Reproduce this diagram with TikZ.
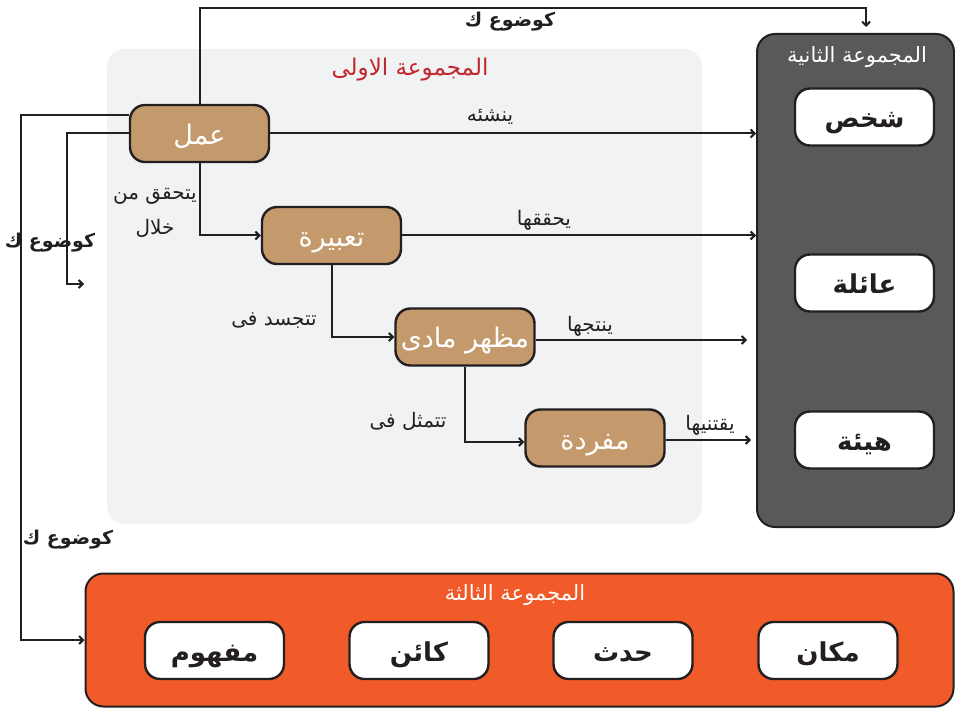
\documentclass[tikz,border=0pt]{standalone}
\usepackage{fontspec}
\newfontfamily\arabicfont[Script=Arabic]{DejaVu Sans}
\TeXXeTstate=1
\usetikzlibrary{arrows.meta}
\newcommand{\artxt}[1]{\beginR #1\endR}
\definecolor{brownc}{HTML}{C49A6C}
\definecolor{darkc}{HTML}{58595B}
\definecolor{orangec}{HTML}{F15A29}
\definecolor{redc}{HTML}{C1272D}
\definecolor{lightc}{HTML}{F1F2F4}
\definecolor{linec}{HTML}{231F20}
\tikzset{
  brownbox/.style={rounded corners=15pt, fill=brownc, draw=linec, line width=2.4pt,
    minimum width=139pt, minimum height=57pt, text=white, inner sep=0pt,
    text height=24pt, text depth=2pt,
    font=\arabicfont\fontsize{27}{32}\selectfont},
  whitebox/.style={rounded corners=15pt, fill=white, draw=linec, line width=2.4pt,
    minimum width=139pt, minimum height=57pt, text=linec, inner sep=0pt,
    text height=23pt, text depth=2pt,
    font=\arabicfont\bfseries\fontsize{26}{30}\selectfont},
  panel/.style={rounded corners=18pt, draw=linec, line width=2pt, inner sep=0pt},
  edgelabel/.style={font=\arabicfont\fontsize{20}{35}\selectfont, text=linec, inner sep=1pt},
  looplabel/.style={font=\arabicfont\bfseries\fontsize{19}{22}\selectfont, text=linec, inner sep=1pt},
  title/.style={font=\arabicfont\fontsize{21}{24}\selectfont, inner sep=1pt},
  arr/.style={draw=linec, line width=2pt, -{Straight Barb[length=4pt,width=8pt]}},
}
\begin{document}
\begin{tikzpicture}[x=1pt, y=-1pt]
\useasboundingbox (0,0) rectangle (955,708);

% first group background
\node[fill=lightc, rounded corners=18pt, minimum width=595pt, minimum height=475pt, inner sep=0pt]
  (g1) at (404.5,286.5) {};
\node[title, text=redc, font=\arabicfont\fontsize{23}{26}\selectfont] (t1) at (410,70) {\artxt{المجموعة الاولى}};

% second group panel
\node[panel, fill=darkc, minimum width=197pt, minimum height=493pt] (p2) at (855.5,280.5) {};
\node[title, text=white] (t2) at (857,57) {\artxt{المجموعة الثانية}};
\node[whitebox] (shakhs) at (864.5,117) {\artxt{شخص}};
\node[whitebox] (aila) at (864.5,283) {\artxt{عائلة}};
\node[whitebox] (hayaa) at (864.5,440) {\artxt{هيئة}};

% third group panel
\node[panel, fill=orangec, minimum width=868pt, minimum height=133pt] (p3) at (519.5,640) {};
\node[title, text=white] (t3) at (515,595) {\artxt{المجموعة الثالثة}};
\node[whitebox] (mafhum) at (214.5,650.5) {\artxt{مفهوم}};
\node[whitebox] (kain) at (419,650.5) {\artxt{كائن}};
\node[whitebox] (hadath) at (623,650.5) {\artxt{حدث}};
\node[whitebox] (makan) at (828,650.5) {\artxt{مكان}};

% chain of the first group
\node[brownbox] (amal) at (199.5,133.5) {\artxt{عمل}};
\node[brownbox] (tabira) at (331.5,235.5) {\artxt{تعبيرة}};
\node[brownbox] (mazhar) at (465,337) {\artxt{مظهر مادى}};
\node[brownbox] (mufrada) at (595,438) {\artxt{مفردة}};

% links down the chain
\draw[arr] (amal.south) |- (tabira.west);
\draw[arr] (tabira.south) |- (mazhar.west);
\draw[arr] (mazhar.south) |- ([yshift=-4pt]mufrada.west);
\node[edgelabel, align=center] (l1) at (155,213) {\artxt{يتحقق من}\\\artxt{خلال}};
\node[edgelabel] (l2) at (274,321) {\artxt{تتجسد فى}};
\node[edgelabel] (l3) at (408,421) {\artxt{تتمثل فى}};

% links to the second group
\draw[arr] (amal.east) -- (amal.east -| p2.west);
\draw[arr] (tabira.east) -- (tabira.east -| p2.west);
\draw[arr, shorten >=9pt] ([yshift=-3pt]mazhar.east) -- ([yshift=-3pt]mazhar.east -| p2.west);
\draw[arr, shorten >=5pt] ([yshift=-2pt]mufrada.east) -- ([yshift=-2pt]mufrada.east -| p2.west);
\node[edgelabel] (l4) at (490,117) {\artxt{ينشئه}};
\node[edgelabel] (l5) at (544,220) {\artxt{يحققها}};
\node[edgelabel] (l6) at (590,326) {\artxt{ينتجها}};
\node[edgelabel] (l7) at (710,425) {\artxt{يقتنيها}};

% loops back from the first node
\coordinate (topturn) at (866,8);
\draw[arr, shorten >=6pt] (amal.north) |- (topturn) -- (p2.north -| topturn);
\node[looplabel] (l8) at (510,22) {\artxt{كوضوع ك}};

\draw[arr] ([yshift=18pt]amal.west) -- ++(-108,0) |- (p3.west);
\node[looplabel] (l9) at (68,540) {\artxt{كوضوع ك}};

\coordinate (freeend) at (84,284);
\draw[arr] (amal.west) -- ++(-62,0) |- (freeend);
\node[looplabel] (l10) at (50,243) {\artxt{كوضوع ك}};
\end{tikzpicture}
\end{document}
